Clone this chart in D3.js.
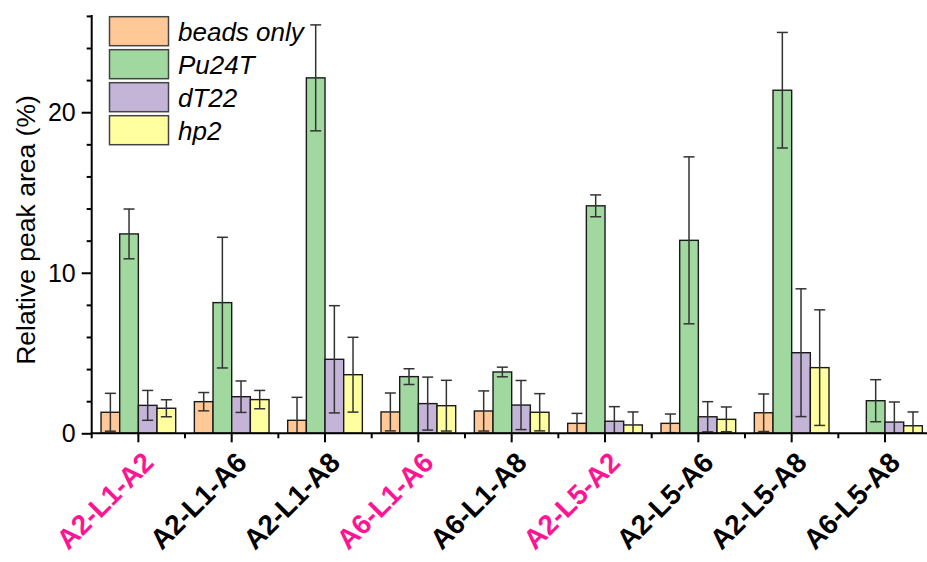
<!DOCTYPE html>
<html><head><meta charset="utf-8">
<script src="https://cdn.jsdelivr.net/npm/d3@7"></script>
<style>html,body{margin:0;padding:0;background:#fff;}svg{display:block;font-family:"Liberation Sans",Arial,sans-serif;}</style>
</head><body>
<svg id="c" width="927" height="562"></svg>
<script>
const categories = ["A2-L1-A2","A2-L1-A6","A2-L1-A8","A6-L1-A6","A6-L1-A8","A2-L5-A2","A2-L5-A6","A2-L5-A8","A6-L5-A8"];
const highlighted = [true,false,false,true,false,true,false,false,false];
const seriesNames = ["beads only","Pu24T","dT22","hp2"];
const beadsOnly    = [1.31,1.97,0.81,1.33,1.39,0.62,0.62,1.28,null];
const beadsOnlyErr = [1.18,0.57,1.43,1.18,1.25,0.62,0.58,1.17,null];
const pu24t        = [12.42,8.14,22.14,3.53,3.82,14.17,12.02,21.37,2.03];
const pu24tErr     = [1.55,4.07,3.30,0.49,0.30,0.68,5.20,3.60,1.31];
const dt22         = [1.74,2.28,4.61,1.85,1.76,0.75,1.03,5.02,0.70];
const dt22Err      = [0.93,0.98,3.34,1.65,1.53,0.91,0.94,3.98,1.25];
const hp2          = [1.56,2.10,3.65,1.72,1.31,0.52,0.87,4.09,0.47];
const hp2Err       = [0.53,0.57,2.33,1.58,1.16,0.81,0.77,3.60,0.86];
const yMajorTicks = [0,10,20];
const yAllTicks = [0,2,4,6,8,10,12,14,16,18,20,22,24,26];
const colors = ["#FFC896","#A0D8A0","#C3B4D8","#FFFFA0"];

const values = [beadsOnly, pu24t, dt22, hp2];
const errs = [beadsOnlyErr, pu24tErr, dt22Err, hp2Err];

const svg = d3.select("#c");
const x0 = 91.7, yBase = 433.3, yTop = 15.9;
const x = d3.scaleBand().domain(categories).range([x0, x0 + 9*93.33]).padding(0);
const bw = x.bandwidth();
const xs = d3.scaleBand().domain(seriesNames).range([-bw*0.4, bw*0.4]).padding(0);
const y = d3.scaleLinear().domain([0,26]).range([yBase, yTop]);

const data = [];
categories.forEach((c,i)=>{
  seriesNames.forEach((s,j)=>{
    if (values[j][i] == null) return;
    data.push({c, s, j, v: values[j][i], e: errs[j][i]});
  });
});

const gBars = svg.append("g");
gBars.selectAll("rect").data(data).enter().append("rect")
  .attr("x", d => x(d.c) + bw/2 + xs(d.s))
  .attr("y", d => y(d.v))
  .attr("width", xs.bandwidth())
  .attr("height", d => y(0) - y(d.v))
  .attr("fill", d => colors[d.j])
  .attr("stroke", "#1a1a1a").attr("stroke-width", 1.4);

const gErr = svg.append("g").attr("stroke", "#333").attr("stroke-width", 1.5);
const capW = 11;
data.forEach(d => {
  const cx = x(d.c) + bw/2 + xs(d.s) + xs.bandwidth()/2;
  const hi = d.v + d.e, lo = Math.max(0, d.v - d.e);
  gErr.append("line").attr("x1", cx).attr("x2", cx).attr("y1", y(hi)).attr("y2", y(lo));
  gErr.append("line").attr("x1", cx-capW/2).attr("x2", cx+capW/2).attr("y1", y(hi)).attr("y2", y(hi));
  if (d.v - d.e > 0)
    gErr.append("line").attr("x1", cx-capW/2).attr("x2", cx+capW/2).attr("y1", y(lo)).attr("y2", y(lo));
});

// Y axis
const gy = svg.append("g").attr("transform", `translate(${x0},0)`);
gy.call(d3.axisLeft(y).tickValues(yAllTicks).tickSize(5).tickFormat(""));
gy.select(".domain").remove();
gy.selectAll(".tick line").attr("stroke", "#000").attr("stroke-width", 2)
  .attr("x2", d => yMajorTicks.includes(d) ? -10 : -5);
gy.append("line").attr("x1",0).attr("x2",0).attr("y1", y(26)-1).attr("y2", y(0)+1).attr("stroke","#000").attr("stroke-width",2);
gy.selectAll(".lbl").data(yMajorTicks).enter().append("text")
  .attr("x", -16).attr("y", d => y(d)).attr("dy", "0.36em")
  .attr("text-anchor", "end").attr("font-size", 25).attr("fill", "#000").text(d => d);

svg.append("text").attr("transform", `translate(35,230) rotate(-90)`)
  .attr("text-anchor", "middle").attr("font-size", 26.5).text("Relative peak area (%)");

// X axis
const gx = svg.append("g").attr("transform", `translate(0,${yBase})`);
gx.append("line").attr("x1", x0-1).attr("x2", 927).attr("y1",0).attr("y2",0).attr("stroke","#000").attr("stroke-width",2);
const bounds = categories.map(c => x(c));
gx.selectAll(".minor").data(bounds).enter().append("line")
  .attr("x1", d=>d).attr("x2", d=>d).attr("y1",0).attr("y2",5).attr("stroke","#000").attr("stroke-width",2);
gx.selectAll(".major").data(categories).enter().append("line")
  .attr("x1", d=>x(d)+bw/2).attr("x2", d=>x(d)+bw/2).attr("y1",0).attr("y2",9).attr("stroke","#000").attr("stroke-width",2);
gx.selectAll(".xl").data(categories).enter().append("text")
  .attr("transform", d => `translate(${x(d)+bw/2+3},${17}) rotate(-45)`)
  .attr("text-anchor", "end").attr("dy", "0.7em")
  .attr("font-size", 28).attr("font-weight", "bold")
  .attr("fill", (d,i) => highlighted[i] ? "#FF1493" : "#000").text(d => d);

// Legend
const lg = svg.append("g");
seriesNames.forEach((s,j) => {
  lg.append("rect").attr("x", 109.5).attr("y", 16.7 + j*33).attr("width", 59).attr("height", 29)
    .attr("fill", colors[j]).attr("stroke", "#444").attr("stroke-width", 1.5);
  lg.append("text").attr("x", 178).attr("y", 31.2 + j*33).attr("dy", "0.36em")
    .attr("font-size", 26).attr("font-style", "italic").text(s);
});
</script>
</body></html>
